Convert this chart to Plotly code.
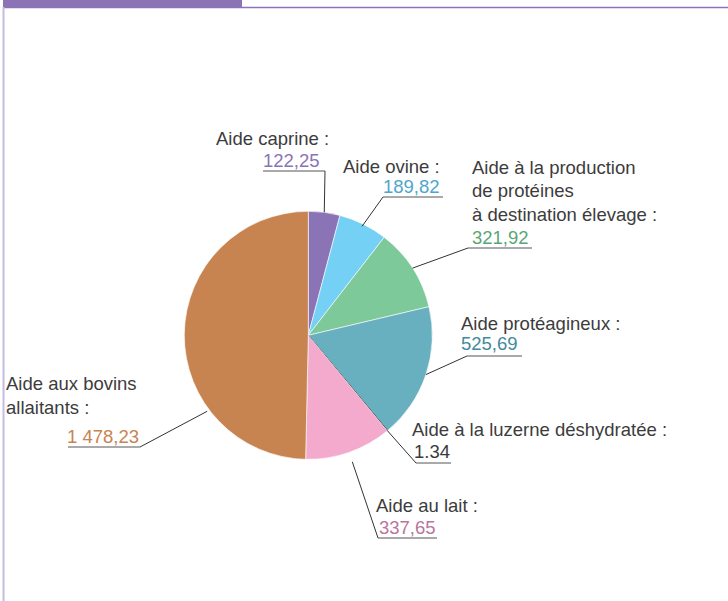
import math
import plotly.graph_objects as go

W, H = 728, 601

labels = [
    "Aide caprine",
    "Aide ovine",
    "Aide à la production de protéines à destination élevage",
    "Aide protéagineux",
    "Aide à la luzerne déshydratée",
    "Aide au lait",
    "Aide aux bovins allaitants",
]
values = [122.25, 189.82, 321.92, 525.69, 1.34, 337.65, 1478.23]
label_lines = [
    ["Aide caprine :"],
    ["Aide ovine :"],
    ["Aide à la production", "de protéines", "à destination élevage :"],
    ["Aide protéagineux :"],
    ["Aide à la luzerne déshydratée :"],
    ["Aide au lait :"],
    ["Aide aux bovins", "allaitants :"],
]
slice_colors = ["#8a74b6", "#74d0f4", "#7ec99a", "#68afc0", "#333333", "#f4aacd", "#c78451"]
value_colors = ["#8a74b6", "#4ea6cc", "#5aa676", "#43899b", "#3a3a3a", "#b8769b", "#c78451"]

# label layout (pixels): text left, line centres, value x, underline, leader
LAYOUT = [
    dict(tx=214, ty=[138], vx=261, vy=160, ul=(263, 325, 171), lead=(325, 171), frac=0.5, rf=1.0),
    dict(tx=341, ty=[166], vx=381, vy=187, ul=(383, 443, 197), lead=(383, 197), frac=0.5, rf=0.98),
    dict(tx=470, ty=[168, 191, 214], vx=470, vy=237, ul=(468, 532, 248), lead=(468, 248), frac=0.5, rf=1.0),
    dict(tx=459, ty=[323], vx=459, vy=343, ul=(467, 522, 356), lead=(467, 356), frac=0.5, rf=1.0),
    dict(tx=410, ty=[429], vx=412, vy=451, ul=(416, 451, 463), lead=(416, 463), frac=0.5, rf=1.0),
    dict(tx=374, ty=[505], vx=377, vy=527, ul=(378, 437, 538), lead=(378, 538), frac=0.5, rf=1.08),
    dict(tx=4, ty=[383, 408], vx=65, vy=436, ul=(68, 140, 447), lead=(140, 447), frac=0.29, rf=1.02),
]

CX, CY, R = 308.3, 335.3, 124.0
FONT = "Liberation Sans, Arial, sans-serif"
FONT_SIZE = 18.5
TEXT_COLOR = "#3c3c3c"


def px(x):
    return x / W


def py(y):
    return 1 - y / H


def fr_number(v, sep=","):
    s = f"{v:,.2f}".replace(",", " ")
    return s.replace(".", sep)


fig = go.Figure(
    go.Pie(
        labels=labels,
        values=values,
        sort=False,
        direction="clockwise",
        rotation=0,
        textinfo="none",
        hoverinfo="label+value",
        marker=dict(
            colors=slice_colors,
            line=dict(color=["#ffffff"] * 4 + ["#222222"] + ["#ffffff"] * 2, width=[0.6] * 4 + [1] + [0.6] * 2),
        ),
        domain=dict(x=[px(CX - R), px(CX + R)], y=[py(CY + R), py(CY - R)]),
        showlegend=False,
    )
)

shapes = [
    dict(type="rect", xref="paper", yref="paper", x0=px(3), x1=px(242), y0=py(0), y1=py(7),
         fillcolor="#8a74b6", line=dict(width=0)),
    dict(type="line", xref="paper", yref="paper", x0=px(3), x1=px(728), y0=py(7.5), y1=py(7.5),
         line=dict(color="#8a74b6", width=1.5)),
    dict(type="line", xref="paper", yref="paper", x0=px(3.5), x1=px(3.5), y0=py(7), y1=py(601),
         line=dict(color="#c6bcdf", width=2)),
]
annotations = []

total = sum(values)
cum = 0.0
for i, v in enumerate(values):
    lay = LAYOUT[i]
    ang = math.radians((cum + v * lay["frac"]) / total * 360)
    cum += v
    ex = CX + R * lay["rf"] * math.sin(ang)
    ey = CY - R * lay["rf"] * math.cos(ang)
    lx, ly = lay["lead"]
    shapes.append(dict(type="line", xref="paper", yref="paper", x0=px(ex), y0=py(ey), x1=px(lx), y1=py(ly),
                       line=dict(color="#333333", width=1)))
    u0, u1, uy = lay["ul"]
    shapes.append(dict(type="line", xref="paper", yref="paper", x0=px(u0), y0=py(uy), x1=px(u1), y1=py(uy),
                       line=dict(color="#555555", width=1)))
    for line, ty in zip(label_lines[i], lay["ty"]):
        annotations.append(dict(text=line, x=px(lay["tx"]), y=py(ty), xref="paper", yref="paper",
                                xanchor="left", yanchor="middle", showarrow=False,
                                font=dict(family=FONT, size=FONT_SIZE, color=TEXT_COLOR)))
    vtext = fr_number(v, "." if i == 4 else ",")
    annotations.append(dict(text=vtext, x=px(lay["vx"]), y=py(lay["vy"]), xref="paper", yref="paper",
                            xanchor="left", yanchor="middle", showarrow=False,
                            font=dict(family=FONT, size=FONT_SIZE, color=value_colors[i])))

fig.update_layout(
    width=W,
    height=H,
    autosize=False,
    margin=dict(l=0, r=0, t=0, b=0),
    paper_bgcolor="white",
    plot_bgcolor="white",
    shapes=shapes,
    annotations=annotations,
)

fig.write_html("out.html", config={"displayModeBar": False},
               post_script="document.body.style.margin='0';")
